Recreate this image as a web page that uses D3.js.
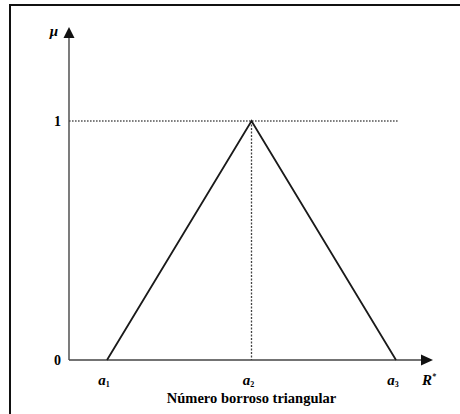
<!DOCTYPE html>
<html>
<head>
<meta charset="utf-8">
<script src="https://cdn.jsdelivr.net/npm/d3@7"></script>
<style>
	body { margin: 0; background: #fff; overflow: hidden; }
	svg { display: block; }
	text { font-family: "Liberation Serif", "DejaVu Serif", serif; fill: #000; }
</style>
</head>
<body>
<div id="chart"></div>
<script>
// triangular fuzzy number: points (a1,0) (a2,1) (a3,0)
const tickNames = ["1", "2", "3"];
const tickValues = [1, 2, 3];
const triangleX = [1, 2, 3];
const triangleY = [0, 1, 0];
const yTicks = [0, 1];
const xAxisExtent = [0.737, 3.256];
const yAxisExtent = [0, 1.393];
const caption = "Número borroso triangular";

const W = 460, H = 414;

const svg = d3.select("#chart")
	.append("svg")
	.attr("width", W)
	.attr("height", H);

// frame (only top and left edges fall inside the picture)
svg.append("path")
	.attr("d", `M${W + 50},5 L10,5 L10,${H + 50}`)
	.attr("fill", "none")
	.attr("stroke", "#111")
	.attr("stroke-width", 2);

const x = d3.scaleLinear().domain([1, 3]).range([107, 396]);
const y = d3.scaleLinear().domain([0, 1]).range([360, 121]);

const x0 = x(xAxisExtent[0]), x1 = x(xAxisExtent[1]);
const y0 = y(yAxisExtent[0]), y1 = y(yAxisExtent[1]);

// guides
svg.append("line")
	.attr("x1", x0).attr("x2", x(3) + 2)
	.attr("y1", y(1)).attr("y2", y(1))
	.attr("stroke", "#555")
	.attr("stroke-width", 1.3)
	.attr("stroke-dasharray", "1.6,1.4");
svg.append("line")
	.attr("x1", x(2)).attr("x2", x(2))
	.attr("y1", y(1)).attr("y2", y(0))
	.attr("stroke", "#444")
	.attr("stroke-width", 1.3)
	.attr("stroke-dasharray", "2,1.5");

// axes
svg.append("line")
	.attr("x1", x0).attr("x2", x1 - 9)
	.attr("y1", y0).attr("y2", y0)
	.attr("stroke", "#444").attr("stroke-width", 1.4);
svg.append("line")
	.attr("x1", x0).attr("x2", x0)
	.attr("y1", y0).attr("y2", y1 + 9)
	.attr("stroke", "#444").attr("stroke-width", 1.4);

svg.append("path")
	.attr("d", `M${x1},${y0} L${x1 - 12},${y0 - 5.5} L${x1 - 12},${y0 + 5.5} Z`)
	.attr("fill", "#111");
svg.append("path")
	.attr("d", `M${x0},${y1} L${x0 - 5.5},${y1 + 11} L${x0 + 5.5},${y1 + 11} Z`)
	.attr("fill", "#111");

// triangle
const line = d3.line()
	.x((d, i) => x(triangleX[i]))
	.y((d) => y(d));
svg.append("path")
	.attr("d", line(triangleY))
	.attr("fill", "none")
	.attr("stroke", "#1a1a1a")
	.attr("stroke-width", 1.8);

// y tick labels
svg.selectAll(".ytick")
	.data(yTicks)
	.enter()
	.append("text")
	.attr("class", "ytick")
	.attr("x", x0 - 8)
	.attr("y", (d) => y(d) + 5)
	.attr("text-anchor", "end")
	.attr("font-size", "14px")
	.attr("font-weight", "bold")
	.text((d) => d);

// x tick labels a1 a2 a3
const xl = svg.selectAll(".xtick")
	.data(tickValues)
	.enter()
	.append("text")
	.attr("class", "xtick")
	.attr("x", (d) => x(d) - 3)
	.attr("y", y0 + 25)
	.attr("text-anchor", "middle")
	.attr("font-size", "15px")
	.attr("font-weight", "bold")
	.attr("font-style", "italic");
xl.append("tspan").text("a");
xl.append("tspan")
	.attr("font-size", "8px")
	.attr("font-style", "normal")
	.attr("dy", 2)
	.text((d, i) => tickNames[i]);

// axis names
svg.append("text")
	.attr("x", x0 - 15)
	.attr("y", y1 + 9)
	.attr("text-anchor", "middle")
	.attr("font-size", "15px")
	.attr("font-weight", "bold")
	.attr("font-style", "italic")
	.text("μ");
const rt = svg.append("text")
	.attr("x", 422)
	.attr("y", y0 + 25)
	.attr("font-size", "15px")
	.attr("font-weight", "bold")
	.attr("font-style", "italic");
rt.append("tspan").text("R");
rt.append("tspan").attr("font-size", "8px").attr("dy", -6).text("*");

// caption
svg.append("text")
	.attr("x", x(2))
	.attr("y", 403)
	.attr("text-anchor", "middle")
	.attr("font-size", "14.5px")
	.attr("font-weight", "bold")
	.text(caption);
</script>
</body>
</html>
